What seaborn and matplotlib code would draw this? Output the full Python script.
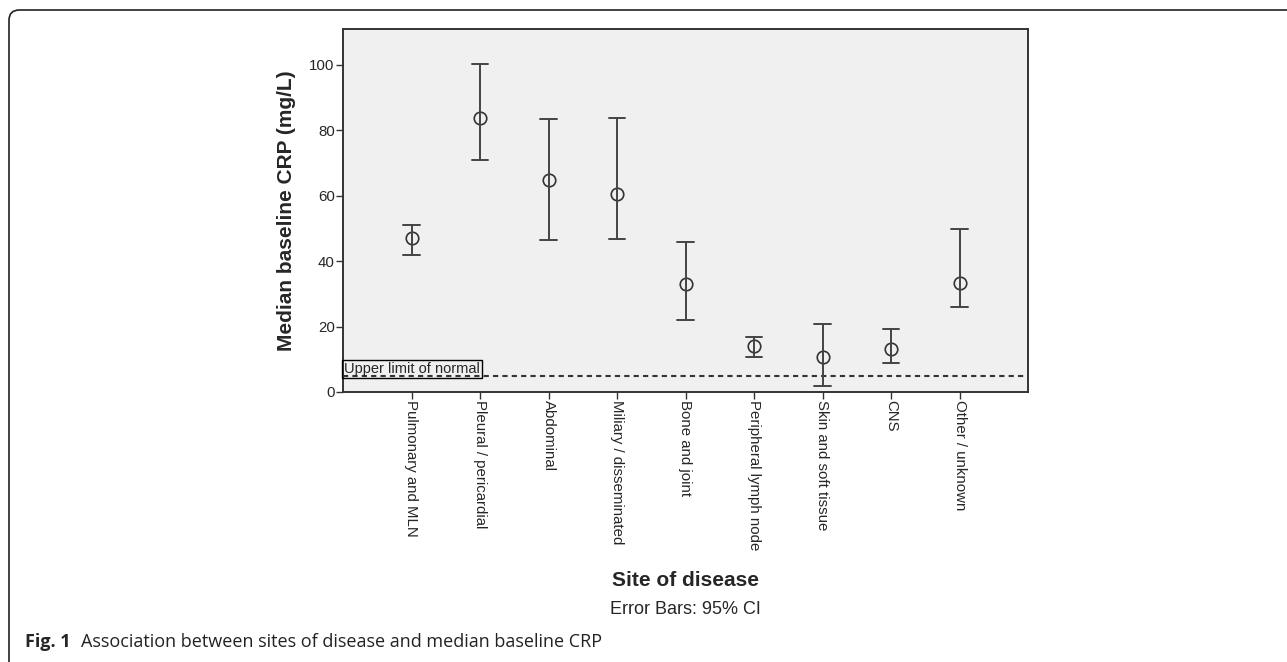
import numpy as np
import pandas as pd
import matplotlib
matplotlib.use('Agg')
import matplotlib.pyplot as plt
import seaborn as sns
from matplotlib.patches import FancyBboxPatch

# data
sites = ['Pulmonary and MLN', 'Pleural / pericardial', 'Abdominal',
         'Miliary / disseminated', 'Bone and joint', 'Peripheral lymph node',
         'Skin and soft tissue', 'CNS', 'Other / unknown']
median_crp = [47.0, 83.9, 64.9, 60.4, 33.0, 14.0, 10.8, 13.1, 33.2]
ci_low = [41.9, 70.9, 46.6, 46.8, 22.0, 10.8, 1.8, 8.8, 26.0]
ci_high = [51.0, 100.2, 83.6, 83.9, 46.0, 16.9, 20.9, 19.2, 49.8]
uln = 5
yticks = [0, 20, 40, 60, 80, 100]

# long table: low / median / high per site, so median + min/max gives the CI bars
rows = []
for s, lo, m, hi in zip(sites, ci_low, median_crp, ci_high):
    for v in (lo, m, hi):
        rows.append({'site': s, 'crp': v})
df = pd.DataFrame(rows)

sns.set_style('white')
plt.rcParams['font.family'] = ['Liberation Sans', 'DejaVu Sans']

fig = plt.figure(figsize=(12.87, 6.62), dpi=100)
ax = fig.add_axes([343/1287, 1 - 392/662, (1028-343)/1287, (392-29)/662])
ax.set_facecolor('#f0f0f0')

sns.pointplot(data=df, x='site', y='crp', order=sites, estimator=np.median,
              errorbar=lambda x: (x.min(), x.max()), linestyle='none',
              marker='o', markersize=9, markerfacecolor='none',
              markeredgecolor='#333333', markeredgewidth=1.2, color='#444444',
              capsize=0.24, err_kws={'linewidth': 1.4, 'color': '#444444'}, ax=ax)

ax.axhline(uln, color='#333333', linestyle=(0, (2.5, 2)), linewidth=1.5, zorder=1)
ax.text(-0.99, uln - 0.1, 'Upper limit of normal', fontsize=10.5, ha='left', va='bottom',
        bbox=dict(boxstyle='square,pad=0.14', facecolor='none', edgecolor='black', linewidth=1))

ax.set_xlim(-1, len(sites))
ax.set_ylim(0, 111)
ax.set_yticks(yticks)
ax.set_xticks(range(len(sites)))
ax.set_xticklabels(sites, rotation=270, va='top', ha='center')
ax.tick_params(axis='both', direction='out', length=5, width=1, color='#333333',
               labelsize=10.8, pad=1, left=True, bottom=True)
for sp in ax.spines.values():
    sp.set_color('#333333')
    sp.set_linewidth(1.4)

ax.set_xlabel('')
ax.set_ylabel('Median baseline CRP (mg/L)', fontsize=15, fontweight='bold', labelpad=9.5)

fig.text(685/1287, 1 - 581/662, 'Site of disease', fontsize=15, fontweight='bold',
         ha='center', va='center')
fig.text(685/1287, 1 - 610/662, 'Error Bars: 95% CI', fontsize=13, ha='center', va='center')

# page frame and caption
frame = FancyBboxPatch((9/1287, -0.2), 1.2, 1.2 - 10/662, boxstyle='round,pad=0,rounding_size=0.008',
                       transform=fig.transFigure, facecolor='none', edgecolor='#222222',
                       linewidth=1.2, mutation_aspect=1287/662)
fig.patches.append(frame)
fig.text(25/1287, 1 - 642/662, 'Fig. 1', fontsize=13, fontweight='bold', family='Open Sans',
         ha='left', va='center')
fig.text(81/1287, 1 - 642/662, 'Association between sites of disease and median baseline CRP',
         fontsize=13, family='Open Sans', ha='left', va='center', color='#222222')

fig.savefig('out.png', dpi=100)
